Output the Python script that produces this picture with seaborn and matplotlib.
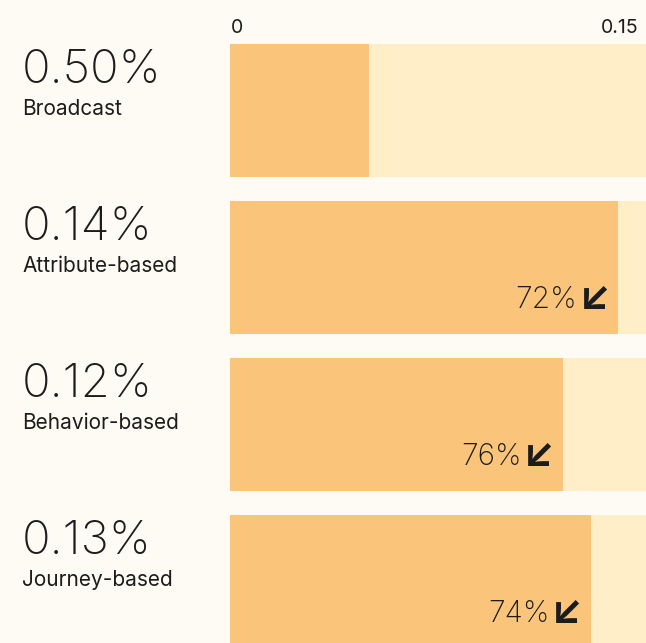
import matplotlib
matplotlib.use("Agg")
import matplotlib.pyplot as plt
import matplotlib.transforms as mtransforms
import pandas as pd
import seaborn as sns

# Conversion rate per messaging approach
channels = ["Broadcast", "Attribute-based", "Behavior-based", "Journey-based"]
rates = [0.05, 0.14, 0.12, 0.13]
rate_labels = ["0.50%", "0.14%", "0.12%", "0.13%"]
change_labels = ["", "72%", "76%", "74%"]
scale_max = 0.15
tick_values = [0, 0.15]
tick_labels = ["0", "0.15"]

BG = "#FDFBF3"
BAR = "#FAC57B"
TRACK = "#FFEEC8"
INK = "#1C1C1C"

sns.set_theme(style="white")
plt.rcParams["font.family"] = ["Inter", "DejaVu Sans"]

df = pd.DataFrame({"channel": channels, "rate": rates,
                   "track": [scale_max] * len(channels)})

W, H = 646, 643
fig = plt.figure(figsize=(W / 100, H / 100), dpi=100)
fig.patch.set_facecolor(BG)
ax = fig.add_axes([230 / W, 0, 416 / W, 1])
ax.set_facecolor(BG)

bar_w = 0.85
sns.barplot(data=df, x="track", y="channel", color=TRACK, saturation=1,
            width=bar_w, ax=ax, edgecolor="none")
sns.barplot(data=df, x="rate", y="channel", color=BAR, saturation=1,
            width=bar_w, ax=ax, edgecolor="none")

ax.set_xlim(0, scale_max)
ax.set_ylim(3.392, -0.704)
ax.axis("off")


def shifted(base, dx, dy):
    return base + mtransforms.ScaledTranslation(dx / 100, dy / 100, fig.dpi_scale_trans)


# scale labels above the first bar
ax.text(tick_values[0], -0.704, tick_labels[0], ha="left", va="baseline",
        fontsize=14, color=INK, transform=shifted(ax.transData, 1, -33))
ax.text(tick_values[1], -0.704, tick_labels[1], ha="right", va="baseline",
        fontsize=14, color=INK, transform=shifted(ax.transData, -7, -33))

left = mtransforms.blended_transform_factory(fig.transFigure, ax.transData)
for i, (name, lab, chg, val) in enumerate(zip(channels, rate_labels, change_labels, rates)):
    top = i - bar_w / 2
    ax.text(22 / W, top, lab, ha="left", va="baseline", fontsize=34,
            fontweight="light", color=INK, transform=shifted(left, 0, -39))
    ax.text(22 / W, top, name, ha="left", va="baseline", fontsize=15,
            color=INK, transform=shifted(left, 0, -71))
    if chg:
        ax.text(val, top, "\u2199", ha="right", va="baseline", fontsize=30,
                fontweight="bold", color=INK,
                transform=shifted(ax.transData, -7, -108))
        ax.text(val, top, chg, ha="right", va="baseline", fontsize=21.5,
                fontweight="light", color=INK,
                transform=shifted(ax.transData, -41, -107))

fig.savefig("out.png", dpi=100, facecolor=BG)
